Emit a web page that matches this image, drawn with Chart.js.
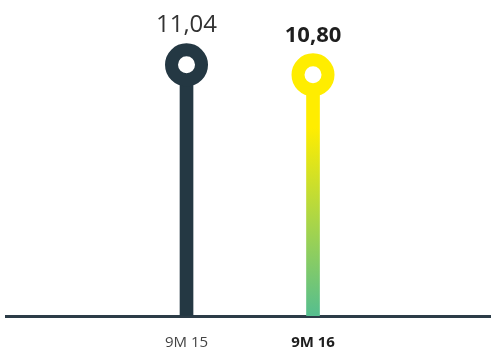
<!DOCTYPE html>
<html>
<head>
<meta charset="utf-8">
<script src="https://cdn.jsdelivr.net/npm/chart.js@4"></script>
<style>
  html, body { margin: 0; padding: 0; background: #fff; }
  #wrap { width: 491px; height: 352px; }
</style>
</head>
<body>
<div id="wrap"><canvas id="chart" width="491" height="352"></canvas></div>
<script>
// -------------------------------
// DATA
// -------------------------------
const periods = ["9M 15", "9M 16"];
const positions = [1, 2];
const values = [11.04, 10.80];
const valueLabels = ["11,04", "10,80"];

const DARK = "#243843";
const YELLOW = "#FFED00";
const GREEN = "#55BE8F";
const FONT = "'Open Sans', 'Noto Sans', sans-serif";

// -------------------------------
// GRADIENT BATANG KUNING
// -------------------------------
function stemColor(ctx) {
  if (ctx.dataIndex === 0) return DARK;
  const chart = ctx.chart;
  if (!chart.chartArea) return YELLOW;
  const top = chart.scales.y.getPixelForValue(values[1]);
  const g = chart.ctx.createLinearGradient(0, top, 0, chart.chartArea.bottom);
  g.addColorStop(0, YELLOW);
  g.addColorStop(0.22, YELLOW);
  g.addColorStop(1, GREEN);
  return g;
}

// -------------------------------
// LABEL NILAI DI ATAS TITIK
// -------------------------------
const valueLabelPlugin = {
  id: "valueLabels",
  afterDatasetsDraw(chart) {
    const meta = chart.getDatasetMeta(0);
    const c = chart.ctx;
    c.save();
    c.textAlign = "center";
    c.textBaseline = "alphabetic";
    meta.data.forEach((pt, i) => {
      if (i === 1) {
        c.font = "700 22px " + FONT;
        c.fillStyle = "#1e1e1e";
      } else {
        c.font = "400 24px " + FONT;
        c.fillStyle = "#333333";
      }
      c.fillText(valueLabels[i], pt.x, pt.y - 33);
    });
    c.restore();
  }
};

new Chart(document.getElementById("chart"), {
  type: "bar",
  data: {
    datasets: [
      {
        type: "line",
        order: 0,
        data: values.map((v, i) => ({ x: positions[i], y: v })),
        showLine: false,
        pointRadius: 15,
        pointHoverRadius: 15,
        pointBorderWidth: 13,
        pointHoverBorderWidth: 13,
        pointBackgroundColor: "#ffffff",
        pointBorderColor: [DARK, YELLOW]
      },
      {
        type: "bar",
        order: 1,
        data: values.map((v, i) => ({ x: positions[i], y: v })),
        backgroundColor: stemColor,
        barThickness: 13,
        borderWidth: 0
      }
    ]
  },
  options: {
    responsive: false,
    animation: false,
    events: [],
    layout: {
      autoPadding: false,
      padding: { left: 6, right: 0, top: 0, bottom: 0 }
    },
    plugins: {
      legend: { display: false },
      tooltip: { enabled: false }
    },
    scales: {
      x: {
        type: "linear",
        offset: false,
        min: -0.427,
        max: 3.407,
        grid: { display: false, drawTicks: false },
        border: { display: true, color: "#2c3c47", width: 3 },
        afterBuildTicks: (scale) => {
          scale.ticks = positions.map(v => ({ value: v }));
        },
        afterFit: (scale) => {
          scale.height = 36;
        },
        ticks: {
          padding: 18,
          autoSkip: false,
          maxRotation: 0,
          callback: (v, i) => periods[i],
          color: (c) => (c.index === 1 ? "#1e1e1e" : "#444444"),
          font: (c) => ({
            family: FONT,
            size: 15,
            weight: c.index === 1 ? "700" : "400"
          })
        }
      },
      y: {
        display: false,
        min: 5,
        max: 12.6
      }
    }
  },
  plugins: [valueLabelPlugin]
});
</script>
</body>
</html>
